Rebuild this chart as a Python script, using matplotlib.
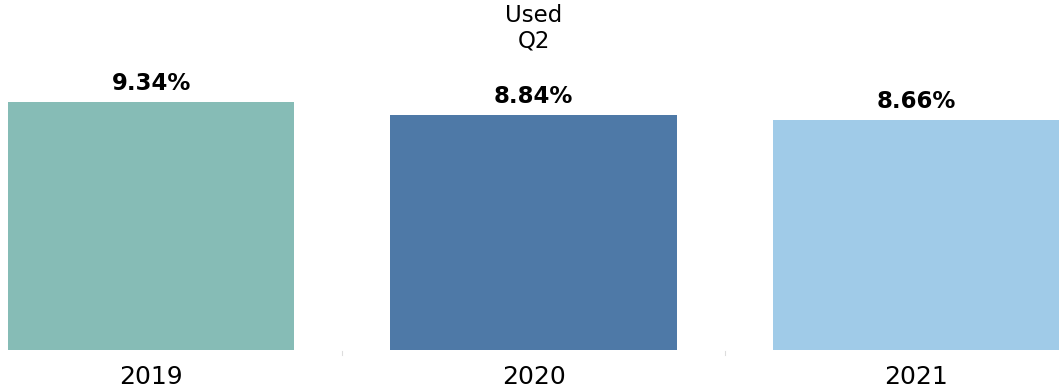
import matplotlib
matplotlib.use("Agg")
import matplotlib.pyplot as plt

# Used vehicles, Q2 share by year
years = ["2019", "2020", "2021"]
values = [9.34, 8.84, 8.66]
colors = ["#86BCB6", "#4E79A7", "#A0CBE8"]
title = "Used\nQ2"

fig = plt.figure(figsize=(10.59, 3.90), dpi=100)
ax = fig.add_axes([0, 40/390, 1, 350/390])

xs = list(range(len(years)))
bars = ax.bar(xs, values, width=0.75, color=colors)

for x, v in zip(xs, values):
  ax.annotate(f"{v:.2f}%", (x, v), xytext=(0, 5), textcoords="offset points",
              ha="center", va="bottom", fontsize=16.5, fontweight="bold")

# Year labels under the bars
for x, y in zip(xs, years):
  ax.text(x, -0.55, y, ha="center", va="top", fontsize=18)

# Faint separators between columns
for sx in (0.5, 1.5):
  ax.plot([sx, sx], [-0.05, -0.2], color="#dddddd", lw=0.8, clip_on=False)

ax.text(1, 13.0, title, ha="center", va="top", fontsize=16.5, linespacing=1.1)

ax.set_xlim(-0.395, 2.374)
ax.set_ylim(0, 13.16)
ax.axis("off")

plt.savefig("out.png", dpi=100)
